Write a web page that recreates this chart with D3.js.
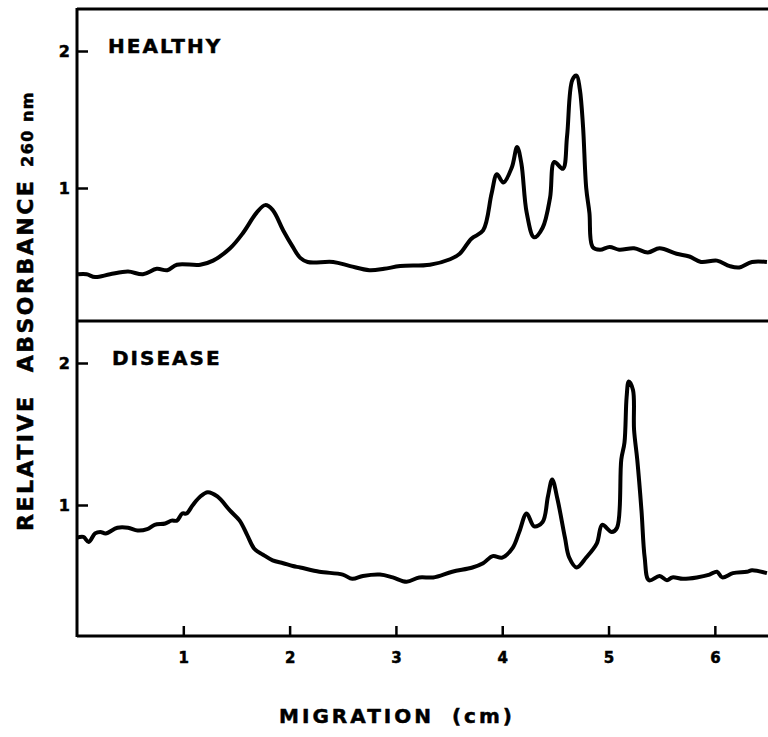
<!DOCTYPE html>
<html>
<head>
<meta charset="utf-8">
<script src="https://cdn.jsdelivr.net/npm/d3@7"></script>
<style>
  body { margin: 0; background: #fff; }
  svg { display: block; }
  text { stroke: #000; stroke-width: 0.5px; }
</style>
</head>
<body>
<svg id="chart"></svg>
<script>
// tick values
const migrationTicks = [1, 2, 3, 4, 5, 6];
const absorbanceTicks = [1, 2];

// healthy trace: migration (cm) / relative absorbance
const healthyCm = [0.01, 0.09, 0.17, 0.31, 0.48, 0.62, 0.75, 0.85, 0.94, 1.16, 1.28, 1.44, 1.56, 1.69, 1.77, 1.84, 1.94, 2.03, 2.10, 2.17,
  2.41, 2.57, 2.75, 2.89, 3.04, 3.32, 3.51, 3.60, 3.71, 3.82, 3.90, 3.95, 4.01, 4.09, 4.14, 4.18, 4.23, 4.30, 4.38, 4.45,
  4.49, 4.57, 4.61, 4.66, 4.70, 4.73, 4.76, 4.79, 4.82, 4.85, 4.92, 5.01, 5.10, 5.24, 5.37, 5.48, 5.64, 5.76, 5.87, 6.02,
  6.14, 6.23, 6.35, 6.49];
const healthyAbs = [0.37, 0.37, 0.35, 0.37, 0.39, 0.37, 0.41, 0.40, 0.44, 0.44, 0.47, 0.56, 0.67, 0.82, 0.875, 0.84, 0.69, 0.57, 0.49, 0.46,
  0.46, 0.43, 0.40, 0.41, 0.43, 0.44, 0.48, 0.52, 0.63, 0.69, 0.96, 1.10, 1.04, 1.15, 1.30, 1.18, 0.82, 0.64, 0.71, 0.93,
  1.19, 1.14, 1.38, 1.79, 1.82, 1.72, 1.45, 1.00, 0.82, 0.57, 0.55, 0.57, 0.55, 0.56, 0.53, 0.56, 0.52, 0.50, 0.46, 0.47,
  0.43, 0.42, 0.46, 0.46];

// disease trace
const diseaseCm = [0.00, 0.06, 0.11, 0.17, 0.22, 0.27, 0.38, 0.48, 0.57, 0.66, 0.73, 0.83, 0.89, 0.94, 0.99, 1.03, 1.09, 1.16, 1.23, 1.32,
  1.44, 1.53, 1.60, 1.67, 1.75, 1.84, 1.94, 2.03, 2.10, 2.28, 2.50, 2.59, 2.69, 2.85, 2.97, 3.10, 3.22, 3.35, 3.53, 3.72,
  3.82, 3.91, 4.00, 4.10, 4.16, 4.23, 4.30, 4.38, 4.43, 4.47, 4.52, 4.59, 4.63, 4.70, 4.79, 4.89, 4.94, 5.03, 5.08, 5.12,
  5.15, 5.17, 5.19, 5.23, 5.24, 5.27, 5.31, 5.34, 5.38, 5.48, 5.55, 5.60, 5.70, 5.83, 5.95, 6.02, 6.07, 6.17, 6.30, 6.35,
  6.49];
const diseaseAbs = [0.77, 0.775, 0.74, 0.80, 0.81, 0.80, 0.84, 0.84, 0.82, 0.83, 0.86, 0.87, 0.89, 0.89, 0.94, 0.94, 1.00, 1.06, 1.09, 1.06,
  0.96, 0.89, 0.79, 0.69, 0.65, 0.61, 0.59, 0.57, 0.56, 0.53, 0.51, 0.48, 0.50, 0.51, 0.49, 0.46, 0.49, 0.49, 0.53, 0.56,
  0.59, 0.64, 0.63, 0.70, 0.81, 0.94, 0.85, 0.88, 1.06, 1.18, 1.04, 0.77, 0.63, 0.56, 0.63, 0.73, 0.86, 0.81, 0.84, 1.32,
  1.44, 1.76, 1.87, 1.81, 1.53, 1.32, 0.96, 0.63, 0.47, 0.50, 0.47, 0.49, 0.48, 0.49, 0.51, 0.53, 0.49, 0.52, 0.53, 0.54,
  0.52];

const panelLabels = ["HEALTHY", "DISEASE"];

const width = 768, height = 737;
const left = 77, right = 768;
const frameTop = 9, divider = 321, frameBottom = 636;
const font = "'DejaVu Sans', sans-serif";

const svg = d3.select("#chart")
  .attr("width", width)
  .attr("height", height);

const x = d3.scaleLinear().domain([0, 6.5]).range([left, right]);

const panels = [
  { label: panelLabels[0], cm: healthyCm, abs: healthyAbs,
    y: d3.scaleLinear().domain([1, 2]).range([188, 51]), labelX: 108, labelY: 53 },
  { label: panelLabels[1], cm: diseaseCm, abs: diseaseAbs,
    y: d3.scaleLinear().domain([1, 2]).range([505, 363]), labelX: 112, labelY: 365 }
];

// frame
const frame = svg.append("g")
  .attr("stroke", "#000")
  .attr("stroke-width", 3)
  .attr("fill", "none");
frame.append("line").attr("x1", left).attr("x2", left).attr("y1", frameTop - 1).attr("y2", frameBottom + 1);
frame.append("line").attr("x1", left).attr("x2", right).attr("y1", frameTop).attr("y2", frameTop);
frame.append("line").attr("x1", left).attr("x2", right).attr("y1", divider).attr("y2", divider);
frame.append("line").attr("x1", left).attr("x2", right).attr("y1", frameBottom).attr("y2", frameBottom);

panels.forEach(p => {
  const yAxis = svg.append("g")
    .attr("transform", "translate(" + left + ",0)")
    .call(d3.axisLeft(p.y)
      .tickValues(absorbanceTicks)
      .tickFormat(d3.format("d"))
      .tickSizeInner(-11)
      .tickSizeOuter(0)
      .tickPadding(7));
  yAxis.select(".domain").remove();
  yAxis.selectAll(".tick line").attr("stroke-width", 2.5);
  yAxis.selectAll(".tick text")
    .style("font", "bold 16px " + font)
    .attr("fill", "#000");

  const data = p.cm.map((c, i) => [c, p.abs[i]]);
  const line = d3.line()
    .x(d => x(d[0]))
    .y(d => p.y(d[1]))
    .curve(d3.curveCatmullRom.alpha(0.5));

  svg.append("path")
    .datum(data)
    .attr("fill", "none")
    .attr("stroke", "#000")
    .attr("stroke-width", 4)
    .attr("stroke-linejoin", "round")
    .attr("d", line);

  svg.append("text")
    .attr("x", p.labelX)
    .attr("y", p.labelY)
    .style("font", "bold 20px " + font)
    .style("letter-spacing", "2px")
    .text(p.label);
});

// x axis on the bottom panel
const xAxis = svg.append("g")
  .attr("transform", "translate(0," + frameBottom + ")")
  .call(d3.axisBottom(x)
    .tickValues(migrationTicks)
    .tickFormat(d3.format("d"))
    .tickSizeInner(-10)
    .tickSizeOuter(0)
    .tickPadding(16));
xAxis.select(".domain").remove();
xAxis.selectAll(".tick line").attr("stroke-width", 2.5);
xAxis.selectAll(".tick text")
  .style("font", "bold 15px " + font)
  .attr("fill", "#000");

// X-Label
svg.append("text")
  .attr("x", 397)
  .attr("y", 723)
  .attr("text-anchor", "middle")
  .style("font", "bold 20px " + font)
  .style("letter-spacing", "3px")
  .style("word-spacing", "8px")
  .text("MIGRATION (cm)");

// Y-Label
svg.append("text")
  .attr("transform", "translate(33,531) rotate(-90)")
  .style("font", "bold 22px " + font)
  .style("letter-spacing", "2.5px")
  .style("word-spacing", "12px")
  .text("RELATIVE ABSORBANCE");

svg.append("text")
  .attr("transform", "translate(33,167) rotate(-90)")
  .style("font", "bold 16px " + font)
  .style("letter-spacing", "1.5px")
  .text("260 nm");
</script>
</body>
</html>
